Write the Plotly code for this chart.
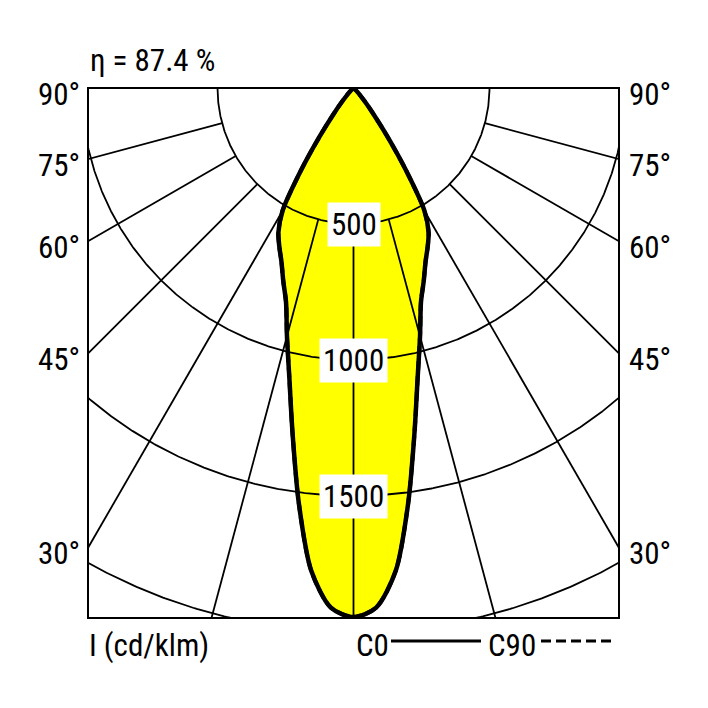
import numpy as np
import plotly.graph_objects as go

# ---- data (cd/klm vs. angle from nadir, degrees) ----
angles_deg = [0, 2.5, 5, 7.5, 10, 12.5, 15, 17.5, 20, 22.5, 25, 27.5, 30, 32.5, 35, 37.5, 40, 45, 50, 60, 70, 80, 90]
I_c0 = [1945, 1912, 1782, 1540, 1290, 1090, 945, 825, 755, 692, 645, 598, 522, 360, 215, 120, 65, 20, 5, 0, 0, 0, 0]
I_c90 = list(I_c0)
circle_values = [500, 1000, 1500, 2000]
circle_labels = ["500", "1000", "1500"]
radial_angles = [0, 15, 30, 45, 60, 75]
side_angles = [90, 75, 60, 45, 30]
efficiency_text = "η = 87.4 %"
unit_text = "I (cd/klm)"

FONT = "Roboto Condensed, Liberation Sans Narrow, sans-serif"
FS = 31

# page body has an 8px margin; plot area (page coords) 88..619 x 88..618
OFF = 8
L, T, W, H = 88, 88, 531, 530
FIGW = FIGH = 700
S = 500 / 136.0
XR = W / 2 * S
YR = H * S

def polar_xy(theta_deg, r):
    t = np.radians(np.asarray(theta_deg, dtype=float))
    r = np.asarray(r, dtype=float)
    return r * np.sin(t), -r * np.cos(t)

fig = go.Figure()

full_ang = [-a for a in angles_deg[::-1]] + angles_deg[1:]
full_c0 = I_c0[::-1] + I_c0[1:]
full_c90 = I_c90[::-1] + I_c90[1:]
cx, cy = polar_xy(full_ang, full_c0)
fig.add_trace(go.Scatter(x=cx, y=cy, mode="lines", fill="toself", fillcolor="#FFFF00",
                         line=dict(color="rgba(0,0,0,0)", width=0, shape="spline", smoothing=0.8),
                         hoverinfo="skip", showlegend=False))

GRID_W = 1.8
phi = np.linspace(-90, 90, 721)
for v in circle_values:
    gx, gy = polar_xy(phi, np.full_like(phi, v))
    fig.add_trace(go.Scatter(x=gx, y=gy, mode="lines", line=dict(color="black", width=GRID_W),
                             hoverinfo="skip", showlegend=False))

for a in radial_angles:
    for sgn in ([1] if a == 0 else [1, -1]):
        rx, ry = polar_xy([sgn * a, sgn * a], [500, 4000])
        fig.add_trace(go.Scatter(x=rx, y=ry, mode="lines", line=dict(color="black", width=GRID_W),
                                 hoverinfo="skip", showlegend=False))

dx90, dy90 = polar_xy(full_ang, full_c90)
fig.add_trace(go.Scatter(x=dx90, y=dy90, mode="lines",
                         line=dict(color="black", width=4, dash="10px,5px", shape="spline", smoothing=0.8),
                         hoverinfo="skip", showlegend=False))
fig.add_trace(go.Scatter(x=cx, y=cy, mode="lines",
                         line=dict(color="black", width=4.5, shape="spline", smoothing=0.8),
                         hoverinfo="skip", showlegend=False))

annotations = []
for v, lab in zip(circle_values, circle_labels):
    annotations.append(dict(x=0, y=-v, xref="x", yref="y", text=lab, showarrow=False,
                            bgcolor="white", borderpad=3,
                            font=dict(family=FONT, size=FS, color="black")))

for a in side_angles:
    yv = 0 if a == 90 else -XR / np.tan(np.radians(a))
    for side in ("left", "right"):
        annotations.append(dict(x=0 if side == "left" else 1, y=yv, xref="paper", yref="y",
                                text=f"{a}°", showarrow=False,
                                xanchor="right" if side == "left" else "left",
                                xshift=-6 if side == "left" else 8, yshift=-6,
                                font=dict(family=FONT, size=FS, color="black")))

def px_x(p):
    return (p - L) / W

annotations.append(dict(x=px_x(88), y=1, xref="paper", yref="paper", text=efficiency_text, showarrow=False,
                        xanchor="left", yanchor="middle", yshift=28,
                        font=dict(family=FONT, size=FS, color="black")))
for txt, xp in ((unit_text, 87), ("C0", 354), ("C90", 486)):
    annotations.append(dict(x=px_x(xp), y=0, xref="paper", yref="paper", text=txt, showarrow=False,
                            xanchor="left", yanchor="middle", yshift=-27,
                            font=dict(family=FONT, size=FS, color="black")))

ly = -(641 - (T + H)) / H
shapes = [
    dict(type="line", xref="paper", yref="paper", x0=px_x(391), x1=px_x(481), y0=ly, y1=ly,
         line=dict(color="black", width=3.2)),
    dict(type="line", xref="paper", yref="paper", x0=px_x(541), x1=px_x(616), y0=ly, y1=ly,
         line=dict(color="black", width=3.2, dash="10px,5px")),
    dict(type="rect", xref="paper", yref="paper", x0=0, x1=1, y0=0, y1=1,
         line=dict(color="black", width=2)),
]

fig.update_layout(
    width=FIGW, height=FIGH,
    margin=dict(l=L - OFF, r=FIGW - (L - OFF) - W, t=T - OFF, b=FIGH - (T - OFF) - H),
    paper_bgcolor="white", plot_bgcolor="white",
    xaxis=dict(range=[-XR, XR], visible=False, fixedrange=True),
    yaxis=dict(range=[-YR, 0], visible=False, fixedrange=True),
    annotations=annotations, shapes=shapes, showlegend=False,
)
fig.write_html("out.html")
